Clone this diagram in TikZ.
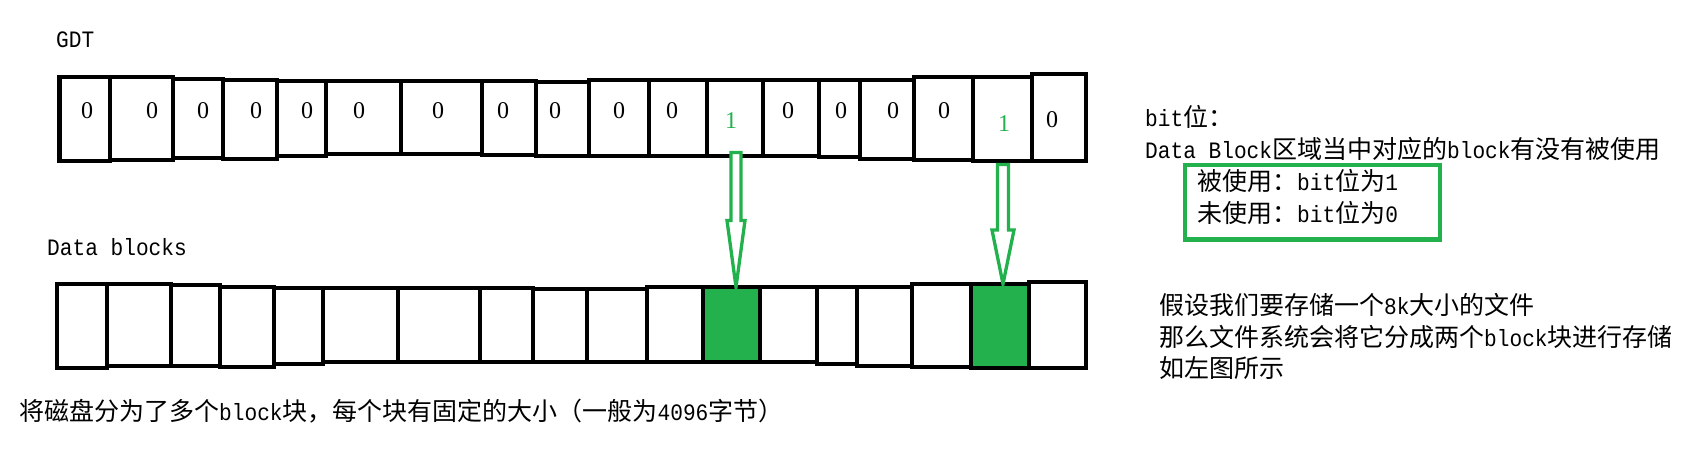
\documentclass[tikz,border=0pt]{standalone}
\usepackage{fontspec}
\setmainfont{Liberation Serif}
\newfontfamily\cjkfont{Noto Sans CJK SC}
\newfontfamily\monofont[FakeStretch=0.9]{Liberation Mono}
\newcommand\zhtxt[1]{{\cjkfont\fontsize{25}{30}\selectfont #1}}
\newcommand\entxt[1]{{\monofont\fontsize{23.5}{28}\selectfont #1}}
\definecolor{pgreen}{RGB}{34,177,76}
\usetikzlibrary{calc}
\tikzset{
  cellbox/.style={draw=black, line width=4.8pt, inner sep=0pt, outer sep=0pt, rectangle},
  digit/.style={inner sep=0pt, font=\fontsize{24}{28}\selectfont},
  txt/.style={inner sep=0pt, anchor=base west, text=black},
  legendbox/.style={draw=pgreen, line width=4.5pt},
  hollowarrow/.style={draw=pgreen, line width=3.3pt, line join=miter, fill=white}
}
\begin{document}
\begin{tikzpicture}[x=1pt,y=-1pt]
\fill[white] (0,0) rectangle (1708,467);
\useasboundingbox (0,0) rectangle (1708,467);

% GDT row
\foreach \i/\xa/\xb/\ya/\yb in {
  1/59.5/110/77/161, 2/110/173/77/160, 3/173/223/79/158, 4/223/277/80/159,
  5/277/326/81/156, 6/326/401/81/154, 7/401/482/81/154, 8/482/536/81/155,
  9/536/589/82/156, 10/589/649/80/156, 11/649/707/80/156, 12/707/763/80/156,
  13/763/819/80/156, 14/819/860/80/157, 15/860/914/80/159, 16/914/973/77/160,
  17/973/1032/77/161, 18/1032/1086/74/161}{
  \pgfmathsetmacro\cx{(\xa+\xb)/2}
  \pgfmathsetmacro\cy{(\ya+\yb)/2}
  \pgfmathsetmacro\w{\xb-\xa}
  \pgfmathsetmacro\h{\yb-\ya}
  \node[cellbox, minimum width=\w pt, minimum height=\h pt] (g\i) at (\cx,\cy) {};
}

% Data blocks row
\foreach \i/\xa/\xb/\ya/\yb/\f in {
  1/57/107/284/368/white, 2/107/171/284/366/white, 3/171/220/285/366/white,
  4/220/274/287/367/white, 5/274/323/288/364/white, 6/323/398/288/362/white,
  7/398/480/288/362/white, 8/480/533/288/362/white, 9/533/587/289/362/white,
  10/587/647/289/362/white, 11/647/703/287/362/white, 12/703/760/287/362/pgreen,
  13/760/817/287/362/white, 14/817/857/287/364/white, 15/857/912/287/366/white,
  16/912/971/284/367/white, 17/971/1029/284/368/pgreen, 18/1029/1086/282/368/white}{
  \pgfmathsetmacro\cx{(\xa+\xb)/2}
  \pgfmathsetmacro\cy{(\ya+\yb)/2}
  \pgfmathsetmacro\w{\xb-\xa}
  \pgfmathsetmacro\h{\yb-\ya}
  \node[cellbox, fill=\f, minimum width=\w pt, minimum height=\h pt] (d\i) at (\cx,\cy) {};
}

% bit digits
\foreach \i/\x/\y/\c/\t in {
  1/87/110.5/black/0, 2/152/110.5/black/0, 3/203/110.5/black/0, 4/256/110.5/black/0,
  5/307/110.5/black/0, 6/359/110.5/black/0, 7/438/110.5/black/0, 8/503/110.5/black/0,
  9/555/110.5/black/0, 10/619/110.5/black/0, 11/672/110.5/black/0, 12/731/120.5/pgreen/1,
  13/788/110.5/black/0, 14/841/110.5/black/0, 15/893/110.5/black/0, 16/944/110.5/black/0,
  17/1004/123.5/pgreen/1, 18/1052/120/black/0}{
  \node[digit, text=\c] (t\i) at (\x,\y) {\t};
}

% arrows from GDT bits to data blocks
\coordinate (a1s) at ($(g12.south)+(1,-3.5)$);
\coordinate (a1e) at (a1s |- d12.north);
\draw[hollowarrow] ($(a1s)+(-5,0)$) -- ($(a1s)+(5,0)$) -- ($(a1s)+(5,68)$)
  -- ($(a1s)+(9,68)$) -- (a1e) -- ($(a1s)+(-9,68)$) -- ($(a1s)+(-5,68)$) -- cycle;
\coordinate (a2s) at ($(g17.south)+(0.5,3.5)$);
\coordinate (a2e) at (a2s |- d17.north);
\draw[hollowarrow] ($(a2s)+(-5.5,0)$) -- ($(a2s)+(5.5,0)$) -- ($(a2s)+(5.5,65.5)$)
  -- ($(a2s)+(11,65.5)$) -- (a2e) -- ($(a2s)+(-11,65.5)$) -- ($(a2s)+(-5.5,65.5)$) -- cycle;

% labels
\node[txt] (gdt) at (56,47) {\entxt{GDT}};
\node[txt] (dbl) at (47,255) {\entxt{Data blocks}};
\node[txt] (cap) at (19,420) {\zhtxt{将磁盘分为了多个}\entxt{block}\zhtxt{块，每个块有固定的大小（一般为}\entxt{4096}\zhtxt{字节）}};

\node[txt] (bit) at (1145,126) {\entxt{bit}\zhtxt{位：}};
\node[txt] (bitd) at (1145,158) {\entxt{Data Block}\zhtxt{区域当中对应的}\entxt{block}\zhtxt{有没有被使用}};
\node[legendbox, minimum width=255pt, minimum height=74.5pt, inner sep=0pt] (leg) at (1312.5,202) {};
\node[txt] (used) at (1197,190) {\zhtxt{被使用：}\entxt{bit}\zhtxt{位为}\entxt{1}};
\node[txt] (unused) at (1197,222) {\zhtxt{未使用：}\entxt{bit}\zhtxt{位为}\entxt{0}};

\node[txt] (n1) at (1159,314) {\zhtxt{假设我们要存储一个}\entxt{8k}\zhtxt{大小的文件}};
\node[txt] (n2) at (1159,346) {\zhtxt{那么文件系统会将它分成两个}\entxt{block}\zhtxt{块进行存储}};
\node[txt] (n3) at (1159,377) {\zhtxt{如左图所示}};
\end{tikzpicture}
\end{document}
